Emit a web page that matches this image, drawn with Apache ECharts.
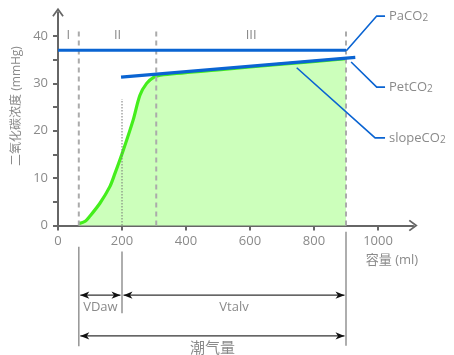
<!DOCTYPE html>
<html>
<head>
<meta charset="utf-8">
<script src="https://cdn.jsdelivr.net/npm/echarts@6/dist/echarts.min.js"></script>
<style>
html, body { margin: 0; padding: 0; background: #fff; }
#chart { width: 454px; height: 355px; }
</style>
</head>
<body>
<div id="chart"></div>
<script>
// Volumetric capnogram: expired CO2 vs exhaled volume

// expired CO2 curve (ml, mmHg)
const volume = [65, 85, 100, 131, 162, 178, 204, 235, 256, 277, 300, 320, 500, 700, 900];
const co2 = [0.4, 0.9, 2.0, 4.7, 8.2, 11.0, 15.9, 22.3, 27.5, 30.0, 31.3, 31.75, 32.85, 34.05, 35.2];

// arterial CO2 level
const paco2 = 37;
const paco2Span = [0, 900];

// phase III slope line
const slopeX = [197, 929];
const slopeY = [31.3, 35.5];

// phase boundaries (ml) and names
const phaseBounds = [0, 65, 307, 900];
const phaseNames = ['I', 'II', 'III'];

// airway dead-space boundary
const deadSpaceVolume = 200;
const deadSpaceCo2 = 26.7;

// volume spans below the axis
const spanNames = ['VDaw', 'Vtalv', '潮气量'];
const spanFrom = [65, 200, 65];
const spanTo = [200, 900, 900];

// callout names
const calloutNames = [['PaCO', '2'], ['PetCO', '2'], ['slopeCO', '2']];

// axis ticks
const xTicks = [0, 200, 400, 600, 800, 1000];
const yTicks = [0, 10, 20, 30, 40];
const yMinorTicks = [0, 5, 10, 15, 20, 25, 30, 35, 40];

// ---- layout (data-space positions of the annotation furniture) ----
const layout = {
  dividerTop: 41,
  phaseLabelY: 40.1,
  spanLevel: [-14.7, -14.7, -23.3],
  guideX: [65, 200, 900],
  guideTop: [-4.5, -5.5, -1.3],
  guideBottom: [-25.5, -18.5, -25.4],
  calloutAnchor: [[901, 36.9], [916, 34.5], [746, 33.3]],
  calloutElbow: [[996, 44.2], [996, 29.2], [991, 18.5]],
  calloutEnd: 1022
};

const GREY = '#8a8a8a';
const BLUE = '#0a64d2';
const GREEN = '#44ee1c';
const FONT = '"Open Sans", "Noto Sans CJK SC", sans-serif';

const curve = volume.map((v, i) => [v, co2[i]]);

const chart = echarts.init(document.getElementById('chart'), null, { renderer: 'canvas' });

function arrowHead(tip, dir) {
  const len = 9, half = 3.6;
  const bx = tip[0] - dir * len;
  return {
    type: 'polygon',
    shape: { points: [[tip[0], tip[1]], [bx, tip[1] - half], [bx + dir * 2.5, tip[1]], [bx, tip[1] + half]] },
    style: { fill: '#111' }
  };
}

const chevron = 'path://M5,0 L10,6.8 L8.8,7.8 L5,2.6 L1.2,7.8 L0,6.8 Z';

chart.setOption({
  animation: false,
  grid: { left: 58, right: 40.8, top: 12.3, bottom: 129.5 },
  xAxis: {
    type: 'value', min: 0, max: 1110,
    axisLine: {
      show: true, onZero: false,
      lineStyle: { color: '#666', width: 2 },
      symbol: ['none', chevron],
      symbolSize: [12, 9]
    },
    axisTick: { show: true, length: 5, lineStyle: { color: '#666', width: 2 }, customValues: xTicks },
    axisLabel: {
      color: GREY, fontSize: 13, fontFamily: FONT, margin: 9, customValues: xTicks,
      formatter: function (v) { return String(v); }
    },
    splitLine: { show: false }
  },
  yAxis: {
    type: 'value', min: 0, max: 45,
    axisLine: {
      show: true, onZero: false,
      lineStyle: { color: '#666', width: 2 },
      symbol: ['none', chevron],
      symbolSize: [12, 9]
    },
    axisTick: { show: true, length: 5, lineStyle: { color: '#666', width: 2 }, customValues: yMinorTicks },
    axisLabel: {
      color: GREY, fontSize: 13, fontFamily: FONT, margin: 10, customValues: yTicks,
      formatter: function (v) { return String(v); }
    },
    splitLine: { show: false }
  },
  graphic: [
    {
      type: 'text', x: 17, y: 106, rotation: Math.PI / 2,
      style: { text: '二氧化碳浓度 (mmHg)', align: 'center', verticalAlign: 'middle', fontSize: 12, fontFamily: FONT, fill: GREY }
    },
    {
      type: 'text', x: 392, y: 260,
      style: { text: '容量 (ml)', align: 'center', verticalAlign: 'middle', fontSize: 13, fontFamily: FONT, fill: GREY }
    }
  ],
  series: [
    {
      // CO2 curve with filled area
      type: 'line', data: curve, symbol: 'none', smooth: 0.3,
      lineStyle: { color: GREEN, width: 3.2 },
      areaStyle: { color: '#ccffbb', opacity: 1 },
      z: 2
    },
    {
      // dashed phase dividers, phase names, dotted dead-space marker
      type: 'custom', coordinateSystem: 'cartesian2d', clip: false, z: 3,
      data: [0],
      renderItem: function (params, api) {
        const children = [];
        for (let i = 1; i < phaseBounds.length; i++) {
          const a = api.coord([phaseBounds[i], 0]);
          const b = api.coord([phaseBounds[i], layout.dividerTop]);
          children.push({
            type: 'line', shape: { x1: a[0], y1: a[1], x2: b[0], y2: b[1] },
            style: { stroke: '#ababab', lineWidth: 2, lineDash: [5, 4] }
          });
        }
        phaseNames.forEach(function (name, i) {
          const p = api.coord([(phaseBounds[i] + phaseBounds[i + 1]) / 2, layout.phaseLabelY]);
          children.push({
            type: 'text', x: p[0], y: p[1],
            style: { text: name, align: 'center', verticalAlign: 'middle', fontSize: 13, fontFamily: FONT, fill: GREY }
          });
        });
        const d0 = api.coord([deadSpaceVolume, 0]);
        const d1 = api.coord([deadSpaceVolume, deadSpaceCo2]);
        children.push({
          type: 'line', shape: { x1: d0[0], y1: d0[1], x2: d1[0], y2: d1[1] },
          style: { stroke: '#777', lineWidth: 1, lineDash: [1.5, 1.5] }
        });
        return { type: 'group', children: children };
      }
    },
    {
      // arterial CO2 level
      type: 'line', data: [[paco2Span[0], paco2], [paco2Span[1], paco2]], symbol: 'none',
      lineStyle: { color: BLUE, width: 3 }, z: 4
    },
    {
      // phase III slope
      type: 'line', data: [[slopeX[0], slopeY[0]], [slopeX[1], slopeY[1]]], symbol: 'none',
      lineStyle: { color: BLUE, width: 3.2 }, z: 4
    },
    {
      // callouts
      type: 'custom', coordinateSystem: 'cartesian2d', clip: false, z: 5,
      data: calloutNames.map((n, i) => [i]),
      renderItem: function (params, api) {
        const i = params.dataIndex;
        const a = api.coord(layout.calloutAnchor[i]);
        const e = api.coord(layout.calloutElbow[i]);
        const f = api.coord([layout.calloutEnd, layout.calloutElbow[i][1]]);
        return {
          type: 'group',
          children: [
            {
              type: 'polyline', shape: { points: [a, e, f] },
              style: { stroke: BLUE, lineWidth: 1.6, fill: null }
            },
            {
              type: 'text', x: f[0] + 4, y: f[1],
              style: {
                text: '{b|' + calloutNames[i][0] + '}{s|' + calloutNames[i][1] + '}',
                verticalAlign: 'middle', align: 'left',
                rich: {
                  b: { fontSize: 13, fontFamily: FONT, fill: GREY, color: GREY },
                  s: { fontSize: 10, fontFamily: FONT, fill: GREY, color: GREY, padding: [4, 0, 0, 0] }
                }
              }
            }
          ]
        };
      }
    },
    {
      // volume guide lines below the axis
      type: 'custom', coordinateSystem: 'cartesian2d', clip: false, z: 5,
      data: layout.guideX.map((x, i) => [i]),
      renderItem: function (params, api) {
        const i = params.dataIndex;
        const a = api.coord([layout.guideX[i], layout.guideTop[i]]);
        const b = api.coord([layout.guideX[i], layout.guideBottom[i]]);
        return {
          type: 'line', shape: { x1: a[0], y1: a[1], x2: b[0], y2: b[1] },
          style: { stroke: '#9a9a9a', lineWidth: 1.6 }
        };
      }
    },
    {
      // volume spans with double arrows
      type: 'custom', coordinateSystem: 'cartesian2d', clip: false, z: 6,
      data: spanNames.map((n, i) => [spanFrom[i], spanTo[i]]),
      renderItem: function (params, api) {
        const i = params.dataIndex;
        const lvl = layout.spanLevel[i];
        const a = api.coord([api.value(0), lvl]);
        const b = api.coord([api.value(1), lvl]);
        const l = [a[0] + 1.5, a[1]];
        const r = [b[0] - 1.5, b[1]];
        const big = spanNames[i] === '潮气量';
        return {
          type: 'group',
          children: [
            { type: 'line', shape: { x1: l[0], y1: l[1], x2: r[0], y2: r[1] }, style: { stroke: '#333', lineWidth: 1.2 } },
            arrowHead(l, -1),
            arrowHead(r, 1),
            {
              type: 'text', x: (l[0] + r[0]) / 2, y: l[1] + (big ? 5 : 6),
              style: {
                text: spanNames[i], align: 'center', verticalAlign: 'top',
                fontSize: big ? 15 : 13, fontFamily: FONT, fill: GREY
              }
            }
          ]
        };
      }
    }
  ]
});
</script>
</body>
</html>
